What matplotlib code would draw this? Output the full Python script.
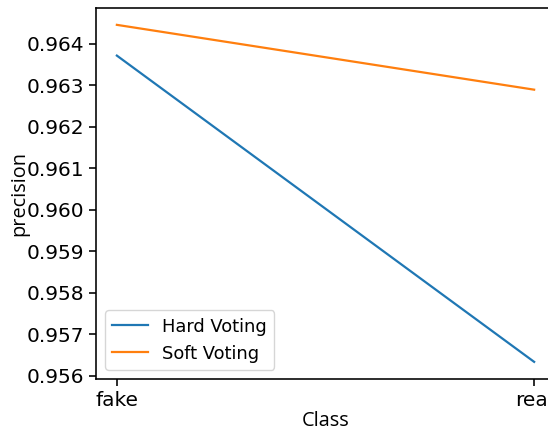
import matplotlib
matplotlib.use("Agg")
import matplotlib.pyplot as plt

classes = ["fake", "real"]
hard_voting = [0.96371, 0.95634]
soft_voting = [0.96445, 0.96289]

scale = 1.45
plt.rcParams["font.size"] = 10 * scale
plt.rcParams["axes.linewidth"] = 0.8 * scale
plt.rcParams["xtick.major.width"] = 0.8 * scale
plt.rcParams["ytick.major.width"] = 0.8 * scale
plt.rcParams["xtick.major.size"] = 3.5 * scale
plt.rcParams["ytick.major.size"] = 3.5 * scale

fig = plt.figure(figsize=(5.48, 4.30), dpi=100)
# the axes run past the right edge of the figure, like the saved image
ax = fig.add_axes([96 / 548, 51.3 / 430, 459 / 548, 370.7 / 430])

ax.plot(classes, hard_voting, label="Hard Voting", linewidth=1.6)
ax.plot(classes, soft_voting, label="Soft Voting", linewidth=1.6)
label_font = ["Open Sans", "DejaVu Sans"]
ax.set_xlabel("Class", family=label_font, fontsize=14.3, labelpad=1)
ax.set_ylabel("precision", family=label_font, fontsize=14.3, labelpad=-2)
ax.legend(loc="lower left", fontsize=12.9)

fig.savefig("out.png", dpi=100)
